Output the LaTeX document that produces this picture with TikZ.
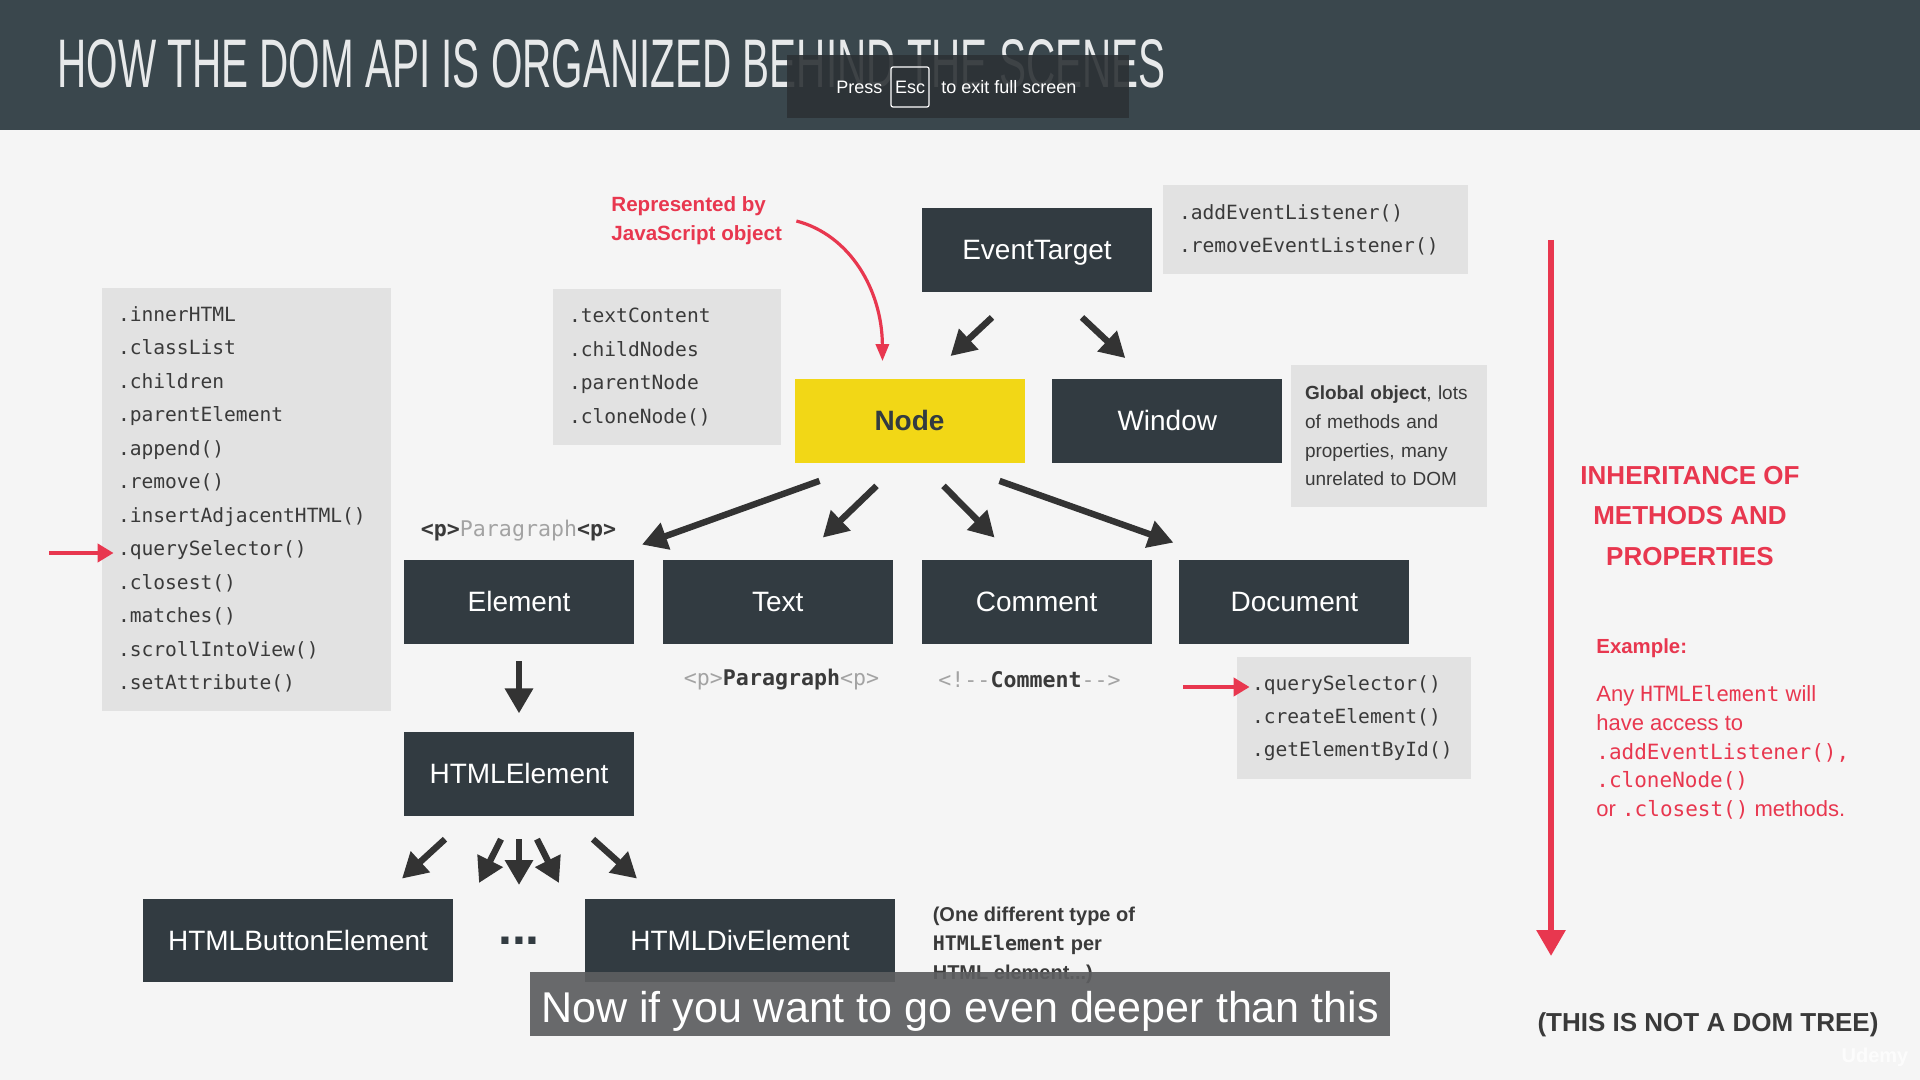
\documentclass[tikz,border=0pt]{standalone}
\usepackage{fontspec}
\setmainfont{Liberation Sans}
\setsansfont{Liberation Sans}
\setmonofont{DejaVu Sans Mono}
\usetikzlibrary{positioning,arrows.meta,calc}

\definecolor{pagebg}{HTML}{F5F5F5}
\definecolor{titlebg}{HTML}{3A474D}
\definecolor{boxdark}{HTML}{323B41}
\definecolor{nodeyellow}{HTML}{F2D716}
\definecolor{listgrey}{HTML}{E2E2E2}
\definecolor{codegrey}{HTML}{3A3A3A}
\definecolor{faintcode}{HTML}{A3A3A3}
\definecolor{arrowdark}{HTML}{333333}
\definecolor{accent}{HTML}{E8374F}
\definecolor{escbg}{HTML}{2C3135}
\definecolor{capbg}{HTML}{5D5E60}

\newcommand\code[1]{{\ttfamily\fontsize{10.5}{14.35}\selectfont #1}}

\tikzset{
  objbox/.style={fill=boxdark, text=white, font=\fontsize{14}{16}\selectfont,
    minimum width=115pt, minimum height=42pt, inner sep=0pt, text height=10pt, text depth=0.5pt},
  widebox/.style={objbox, minimum width=155pt, minimum height=41.5pt},
  listbox/.style={fill=listgrey, text=codegrey, align=left, inner xsep=8pt, inner ysep=0pt,
    font=\ttfamily\fontsize{9.8}{16.75}\selectfont},
  codelabel/.style={text=codegrey, inner sep=0pt, font=\ttfamily\fontsize{10.8}{13}\selectfont},
  inh/.style={draw=arrowdark, line width=3.2pt, -{Triangle[length=12.5pt,width=13.5pt]}},
  pointer/.style={draw=accent, line width=2pt, -{Triangle[length=8pt,width=9pt]}},
  hinttext/.style={text=white, inner sep=0pt, font=\fontsize{9}{11}\selectfont}
}

\begin{document}
\begin{tikzpicture}[x=0.5pt,y=-0.5pt]
\useasboundingbox (0,0) rectangle (1920,1080);
\fill[pagebg] (0,0) rectangle (1920,1080);
\fill[titlebg] (0,0) rectangle (1920,130);

% title
\node[anchor=west, inner sep=0pt, text=white!88!titlebg] (title) at (57,64)
  {\resizebox{554pt}{24pt}{HOW THE DOM API IS ORGANIZED BEHIND THE SCENES}};

% class boxes
\node[objbox] (evt) at (1037,250) {EventTarget};
\node[objbox, fill=nodeyellow, text=boxdark, font=\bfseries\fontsize{14}{16}\selectfont] (nd) at (909.5,420.5) {Node};
\node[objbox, right=13.5pt of nd] (win) {Window};
\node[objbox] (elem) at (519,602) {Element};
\node[objbox, right=14pt of elem] (txt) {Text};
\node[objbox, right=14pt of txt] (cmt) {Comment};
\node[objbox, right=13.5pt of cmt] (doc) {Document};
\node[objbox, below=43.5pt of elem] (html) {HTMLElement};
\node[widebox] (btn) at (298,940.5) {HTMLButtonElement};
\node[widebox] (div) at (740,940.5) {HTMLDivElement};
\node[text=boxdark, inner sep=0pt, font=\bfseries\fontsize{25}{27}\selectfont] (dots) at (519,941) {...};

% method lists
\node[listbox, text width=128.5pt, minimum height=211.5pt] (leftlist) at (246.5,499.5)
  {.innerHTML\\.classList\\.children\\.parentElement\\.append()\\.remove()\\.insertAdjacentHTML()\\.querySelector()\\.closest()\\.matches()\\.scrollIntoView()\\.setAttribute()};
\node[listbox, text width=98pt, minimum height=78pt, font=\ttfamily\fontsize{9.8}{16.85}\selectfont] (ndlist) at (667,367)
  {.textContent\\.childNodes\\.parentNode\\.cloneNode()};
\node[listbox, text width=136.5pt, minimum height=44.5pt, font=\ttfamily\fontsize{9.8}{16.5}\selectfont] (evtlist) at (1315.5,229.5)
  {.addEventListener()\\.removeEventListener()};
\node[listbox, text width=84pt, inner xsep=7pt, minimum height=71pt, font=\fontsize{9.5}{14.3}\selectfont] (winnote) at (1389,436)
  {\textbf{Global object}, lots\\of methods and\\properties, many\\unrelated to DOM};
\node[listbox, text width=102pt, inner xsep=7.5pt, minimum height=61pt, font=\ttfamily\fontsize{9.8}{16.5}\selectfont] (doclist) at (1354,718)
  {.querySelector()\\.createElement()\\.getElementById()};

% code samples
\node[codelabel] (elemcode) at (518.5,531)
  {\textbf{<p>}\textcolor{faintcode}{Paragraph}\textbf{<p>}};
\node[codelabel] (txtcode) at (781.5,680)
  {\textcolor{faintcode}{<p>}\textbf{Paragraph}\textcolor{faintcode}{<p>}};
\node[codelabel] (cmtcode) at (1029.5,680)
  {\textcolor{faintcode}{<!--}\textbf{Comment}\textcolor{faintcode}{-->}};
\node[right=18.5pt of div, yshift=-2.5pt, align=left, inner sep=0pt, text=codegrey, font=\bfseries\fontsize{10}{14.5}\selectfont] (divnote)
  {(One different type of\\{\ttfamily\fontsize{10}{14.5}\selectfont HTMLElement} per\\HTML element...)};

% inheritance arrows
\draw[inh] ($(evt.south)+(-45,25)$) -- ($(nd.north)+(41,-22)$);
\draw[inh] ($(evt.south)+(45,25)$) -- ($(win.north)+(-42,-20)$);
\draw[inh] ($(nd.south)+(-90,18)$) -- ($(elem.north)+(123,-15)$);
\draw[inh] ($(nd.south)+(-33,23)$) -- ($(txt.north)+(45,-22)$);
\draw[inh] ($(nd.south)+(34,23)$) -- ($(cmt.north)+(-42,-22)$);
\draw[inh] ($(nd.south)+(90,18)$) -- ($(doc.north)+(-121,-17)$);
\draw[inh, shorten <=8.5pt, shorten >=9pt] (elem) -- (html);
\draw[inh] ($(html.south)+(-74,23)$) -- ($(btn.north)+(104,-20)$);
\draw[inh] ($(html.south)+(-18,23)$) -- ($(dots)+(-40,-58)$);
\draw[inh] ($(html.south)+(0,23)$) -- ($(dots)+(0,-56)$);
\draw[inh] ($(html.south)+(18,23)$) -- ($(dots)+(40,-58)$);
\draw[inh] ($(html.south)+(74,23)$) -- ($(div.north)+(-103,-20)$);

% red notes
\node[anchor=west, align=left, inner sep=0pt, text=accent, font=\bfseries\fontsize{10.3}{14.5}\selectfont] (jslabel) at (611,221)
  {Represented by\\JavaScript object};
\draw[accent, line width=1.6pt, -{Triangle[length=8.5pt,width=6.5pt]}]
  ($(jslabel.east)+(14,0)$) .. controls (850,235) and (882,290) .. ($(nd.north)+(-27,-17)$);
\coordinate (qsleft) at (49,553);
\draw[pointer] (qsleft) -- ($(leftlist.west)+(12,53.5)$);
\coordinate (qsdoc) at (1183,687);
\draw[pointer] (qsdoc) -- ($(doclist.west)+(13,-31)$);

% right column
\coordinate (inhtop) at (1551,240);
\coordinate (inhbot) at (1551,956);
\draw[accent, line width=3pt, -{Triangle[length=13pt,width=14pt]}] (inhtop) -- (inhbot);
\node[align=center, text=accent, font=\bfseries\fontsize{13}{20.25}\selectfont] (inhtitle) at (1690,516)
  {INHERITANCE OF\\METHODS AND\\PROPERTIES};
\node[anchor=west, inner sep=0pt, text=accent, font=\bfseries\fontsize{10.2}{12}\selectfont] (exlabel) at (1596,648) {Example:};
\node[anchor=west, align=left, inner sep=0pt, text=accent, font=\fontsize{11}{14.35}\selectfont] (exbody) at (1596,752.5)
  {Any \code{HTMLElement} will\\have access to\\\code{.addEventListener(),}\\\code{.cloneNode()}\\or \code{.closest()} methods.};
\node[text=codegrey, font=\bfseries\fontsize{13}{15}\selectfont] (nottree) at (1708,1025) {(THIS IS NOT A DOM TREE)};
\node[text=white, opacity=0.75, font=\bfseries\fontsize{10}{12}\selectfont] (logo) at (1875,1057) {Udemy};

% browser hint
\node[fill=escbg, fill opacity=0.9, minimum width=171pt, minimum height=31.5pt, inner sep=0pt] (hint) at (958,86.5) {};
\node[hinttext, anchor=base west] (press) at (836,94) {Press};
\node[hinttext, draw=white!85, line width=0.6pt, rounded corners=1pt, minimum width=19pt, minimum height=20pt] (esc) at (910,87) {Esc};
\node[hinttext, anchor=base west] (exit) at (941,94) {to exit full screen};

% caption
\node[fill=capbg, fill opacity=0.92, minimum width=430pt, minimum height=32pt, inner sep=0pt] (capbox) at (960,1004) {};
\node[anchor=base, inner sep=0pt, text=white] (captext) at (960,1022)
  {\resizebox{419pt}{!}{Now if you want to go even deeper than this}};
\end{tikzpicture}
\end{document}
